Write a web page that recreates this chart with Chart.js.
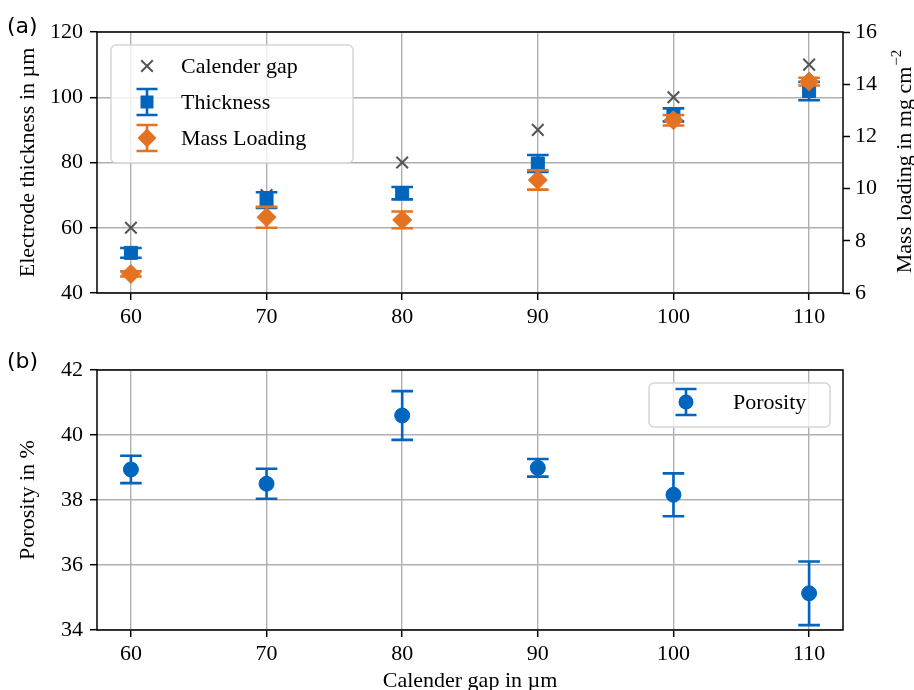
<!DOCTYPE html>
<html>
<head>
<meta charset="utf-8">
<script src="https://cdn.jsdelivr.net/npm/chart.js@4.4.0/dist/chart.umd.min.js"></script>
<style>
  html, body { margin: 0; padding: 0; background: #fff; overflow: hidden; }
  body { width: 914px; height: 690px; position: relative; }
  .panel { position: absolute; left: 0; width: 914px; }
  .tag { position: absolute; left: 7px; font-family: 'DejaVu Sans', sans-serif; font-size: 22px; line-height: 22px; color: #000; }
</style>
</head>
<body>
<div class="panel" style="top:0;height:345px"><canvas id="topChart" width="914" height="345"></canvas></div>
<div class="panel" style="top:345px;height:355px"><canvas id="bottomChart" width="914" height="355"></canvas></div>
<div class="tag" style="top:15px">(a)</div>
<div class="tag" style="top:350px">(b)</div>
<script>
// Daten
const gaps = [60, 70, 80, 90, 100, 110];
const xTicks = [60, 70, 80, 90, 100, 110];
const thickness = [52.3, 68.5, 70.6, 79.7, 94.6, 101.9];
const thicknessErr = [1.5, 2.4, 1.9, 2.6, 2.0, 2.8];
const massLoading = [6.73, 8.9, 8.8, 10.33, 12.62, 14.1];
const massLoadingErr = [0.1, 0.4, 0.32, 0.37, 0.2, 0.15];
const porosity = [38.94, 38.5, 40.6, 38.99, 38.16, 35.13];
const porosityErr = [0.42, 0.46, 0.75, 0.27, 0.66, 0.98];
const thicknessTicks = [40, 60, 80, 100, 120];
const massTicks = [6, 8, 10, 12, 14, 16];
const porosityTicks = [34, 36, 38, 40, 42];

const BLUE = '#0065BD';
const ORANGE = '#E37222';
const GREY = '#555555';
const GRID = '#b0b0b0';
const SERIF = "'Liberation Serif', 'Times New Roman', serif";
const font = { family: SERIF, size: 22 };

Chart.defaults.font.family = SERIF;
Chart.defaults.color = '#000';

const toPoints = (ys) => gaps.map((g, i) => ({ x: g, y: ys[i] }));
const fixTicks = (list) => (scale) => { scale.ticks = list.map(v => ({ value: v })); };

// Marker zeichnen (Legende)
function marker(ctx, style, x, y, color) {
  ctx.save();
  ctx.fillStyle = color;
  ctx.strokeStyle = color;
  ctx.lineWidth = 2;
  ctx.beginPath();
  if (style === 'crossRot') {
    const d = 5.8;
    ctx.moveTo(x - d, y - d); ctx.lineTo(x + d, y + d);
    ctx.moveTo(x + d, y - d); ctx.lineTo(x - d, y + d);
    ctx.stroke();
  } else if (style === 'rect') {
    ctx.rect(x - 6.5, y - 6.5, 13, 13);
    ctx.fill();
  } else if (style === 'rectRot') {
    ctx.moveTo(x, y - 9.5); ctx.lineTo(x + 9.5, y); ctx.lineTo(x, y + 9.5); ctx.lineTo(x - 9.5, y);
    ctx.closePath();
    ctx.fill();
  } else {
    ctx.arc(x, y, 7.5, 0, Math.PI * 2);
    ctx.fill();
  }
  ctx.restore();
}

function errBar(ctx, x, top, bot, color, cap) {
  ctx.save();
  ctx.strokeStyle = color;
  ctx.lineWidth = 2.6;
  ctx.beginPath();
  ctx.moveTo(x, top); ctx.lineTo(x, bot);
  ctx.moveTo(x - cap, top); ctx.lineTo(x + cap, top);
  ctx.moveTo(x - cap, bot); ctx.lineTo(x + cap, bot);
  ctx.stroke();
  ctx.restore();
}

// Fehlerbalken vor den Punkten
const errorBars = {
  id: 'errorBars',
  beforeDatasetDraw(chart, args) {
    const ds = chart.data.datasets[args.index];
    if (!ds.errors) return;
    const xs = chart.scales.x;
    const ys = chart.scales[ds.yAxisID || 'y'];
    ds.data.forEach((p, i) => {
      const e = ds.errors[i];
      errBar(chart.ctx, xs.getPixelForValue(p.x), ys.getPixelForValue(p.y + e), ys.getPixelForValue(p.y - e), ds.borderColor, 10.8);
    });
  }
};

// Rahmen um die Achsen
const frame = {
  id: 'frame',
  afterDraw(chart) {
    const a = chart.chartArea;
    const ctx = chart.ctx;
    ctx.save();
    ctx.strokeStyle = '#000';
    ctx.lineWidth = 1.5;
    ctx.strokeRect(a.left, a.top, a.right - a.left, a.bottom - a.top);
    ctx.restore();
  }
};

// Legende im Diagramm (wie matplotlib)
const boxLegend = {
  id: 'boxLegend',
  afterDraw(chart, args, opts) {
    if (!opts.items) return;
    const ctx = chart.ctx;
    ctx.save();
    ctx.beginPath();
    ctx.roundRect(opts.x, opts.y, opts.w, opts.h, 5);
    ctx.fillStyle = 'rgba(255,255,255,0.8)';
    ctx.fill();
    ctx.strokeStyle = '#d6d6d6';
    ctx.lineWidth = 1.5;
    ctx.stroke();
    opts.items.forEach(it => {
      if (it.err) errBar(ctx, opts.mx, it.y - 13, it.y + 13, it.color, 10.5);
      marker(ctx, it.style, opts.mx, it.y, it.color);
      ctx.fillStyle = '#000';
      ctx.font = '22px ' + SERIF;
      ctx.textBaseline = 'middle';
      ctx.textAlign = 'left';
      ctx.fillText(it.label, opts.tx, it.y + 1);
    });
    ctx.restore();
  }
};

// Titel der rechten Achse (von unten nach oben)
const rightTitle = {
  id: 'rightTitle',
  afterDraw(chart, args, opts) {
    if (!opts.text) return;
    const ctx = chart.ctx;
    ctx.save();
    ctx.translate(opts.x, opts.y);
    ctx.rotate(-Math.PI / 2);
    ctx.fillStyle = '#000';
    ctx.textBaseline = 'middle';
    ctx.textAlign = 'left';
    ctx.font = '22px ' + SERIF;
    const w1 = ctx.measureText(opts.text).width;
    ctx.font = '15px ' + SERIF;
    const w2 = ctx.measureText(opts.sup).width;
    const start = -(w1 + w2) / 2;
    ctx.font = '22px ' + SERIF;
    ctx.fillText(opts.text, start, 0);
    ctx.font = '15px ' + SERIF;
    ctx.fillText(opts.sup, start + w1 + 1, -8);
    ctx.restore();
  }
};

const xAxis = (height, title) => ({
  type: 'linear',
  min: 57.5,
  max: 112.5,
  afterBuildTicks: fixTicks(xTicks),
  afterFit: (s) => { s.height = height; },
  grid: { color: GRID, lineWidth: 1.4, tickColor: '#000', tickLength: 7, tickWidth: 1.5 },
  border: { display: false },
  ticks: { font, color: '#000', padding: 4, maxRotation: 0, autoSkip: false },
  title: title ? { display: true, text: title, font, color: '#000', padding: { top: 0, bottom: 6 } } : { display: false }
});

new Chart(document.getElementById('topChart'), {
  type: 'scatter',
  data: {
    datasets: [
      {
        label: 'Mass Loading',
        data: toPoints(massLoading),
        errors: massLoadingErr,
        yAxisID: 'y1',
        pointStyle: 'rectRot',
        pointRadius: 9.5,
        backgroundColor: ORANGE,
        borderColor: ORANGE,
        borderWidth: 1,
        order: 1
      },
      {
        label: 'Thickness',
        data: toPoints(thickness),
        errors: thicknessErr,
        yAxisID: 'y',
        pointStyle: 'rect',
        pointRadius: 9.2,
        backgroundColor: BLUE,
        borderColor: BLUE,
        borderWidth: 1,
        order: 2
      },
      {
        label: 'Calender gap',
        data: toPoints(gaps),
        yAxisID: 'y',
        pointStyle: 'crossRot',
        pointRadius: 8.2,
        borderColor: GREY,
        borderWidth: 2,
        order: 3
      }
    ]
  },
  options: {
    responsive: false,
    animation: false,
    layout: { padding: { top: 32, left: 0, right: 0, bottom: 0 } },
    scales: {
      x: xAxis(52, null),
      y: {
        position: 'left',
        min: 40,
        max: 120,
        afterBuildTicks: fixTicks(thicknessTicks),
        afterFit: (s) => { s.width = 97; },
        grid: { color: GRID, lineWidth: 1.4, tickColor: '#000', tickLength: 7, tickWidth: 1.5 },
        border: { display: false },
        ticks: { font, color: '#000', padding: 7 },
        title: { display: true, text: 'Electrode thickness in µm', font, color: '#000', padding: { top: 15, bottom: 0 } }
      },
      y1: {
        position: 'right',
        min: 6,
        max: 16,
        afterBuildTicks: fixTicks(massTicks),
        afterFit: (s) => { s.width = 71; },
        grid: { drawOnChartArea: false, tickColor: '#000', tickLength: 7, tickWidth: 1.5 },
        border: { display: false },
        ticks: { font, color: '#000', padding: 5 }
      }
    },
    plugins: {
      legend: { display: false },
      tooltip: { enabled: false },
      boxLegend: {
        x: 111, y: 45, w: 242, h: 118, mx: 147, tx: 181,
        items: [
          { label: 'Calender gap', style: 'crossRot', color: GREY, y: 66, err: false },
          { label: 'Thickness', style: 'rect', color: BLUE, y: 102, err: true },
          { label: 'Mass Loading', style: 'rectRot', color: ORANGE, y: 138, err: true }
        ]
      },
      rightTitle: { text: 'Mass loading in mg cm', sup: '−2', x: 905, y: 162 }
    }
  },
  plugins: [errorBars, frame, boxLegend, rightTitle]
});

new Chart(document.getElementById('bottomChart'), {
  type: 'scatter',
  data: {
    datasets: [
      {
        label: 'Porosity',
        data: toPoints(porosity),
        errors: porosityErr,
        yAxisID: 'y',
        pointStyle: 'circle',
        pointRadius: 7.5,
        backgroundColor: BLUE,
        borderColor: BLUE,
        borderWidth: 1
      }
    ]
  },
  options: {
    responsive: false,
    animation: false,
    layout: { padding: { top: 25, left: 0, right: 71, bottom: 0 } },
    scales: {
      x: xAxis(70, 'Calender gap in µm'),
      y: {
        position: 'left',
        min: 34,
        max: 42,
        afterBuildTicks: fixTicks(porosityTicks),
        afterFit: (s) => { s.width = 97; },
        grid: { color: GRID, lineWidth: 1.4, tickColor: '#000', tickLength: 7, tickWidth: 1.5 },
        border: { display: false },
        ticks: { font, color: '#000', padding: 7 },
        title: { display: true, text: 'Porosity in %', font, color: '#000', padding: { top: 15, bottom: 0 } }
      }
    },
    plugins: {
      legend: { display: false },
      tooltip: { enabled: false },
      boxLegend: {
        x: 649, y: 38, w: 181, h: 44, mx: 686, tx: 733,
        items: [
          { label: 'Porosity', style: 'circle', color: BLUE, y: 57, err: true }
        ]
      }
    }
  },
  plugins: [errorBars, frame, boxLegend]
});
</script>
</body>
</html>
